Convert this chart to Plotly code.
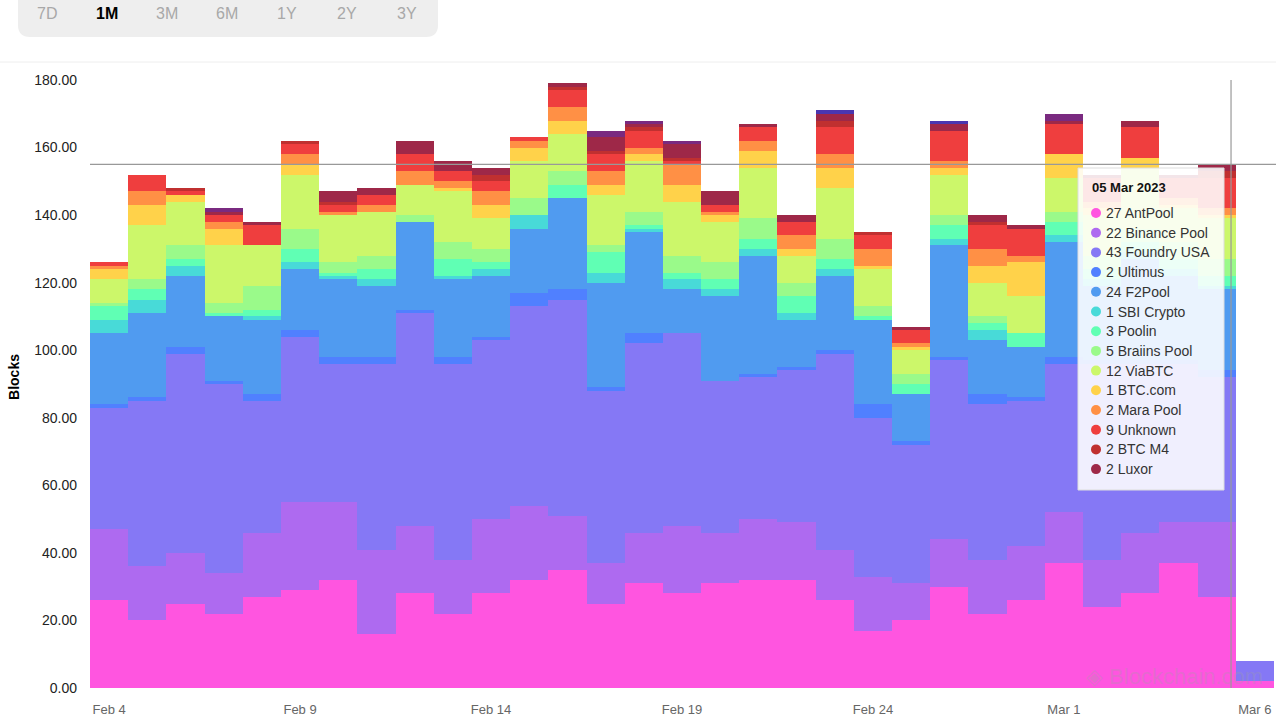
import pandas as pd
import plotly.graph_objects as go

# daily blocks mined per pool, 04 Feb 2023 -> 06 Mar 2023
dates = pd.date_range("2023-02-04", "2023-03-06", freq="D")

pools = ["AntPool", "Binance Pool", "Foundry USA", "Ultimus", "F2Pool", "SBI Crypto",
         "Poolin", "Braiins Pool", "ViaBTC", "BTC.com", "Mara Pool", "Unknown",
         "BTC M4", "Luxor", "Titan", "KuCoinPool"]

antpool = [26, 20, 25, 22, 27, 29, 32, 16, 28, 22, 28, 32, 35, 25, 31, 28, 31, 32, 32, 26, 17, 20, 30, 22, 26, 37, 24, 28, 37, 27, 2]
binance = [21, 16, 15, 12, 19, 26, 23, 25, 20, 16, 22, 22, 16, 12, 15, 20, 15, 18, 17, 15, 16, 11, 14, 16, 16, 15, 14, 18, 12, 22, 0]
foundry = [36, 49, 59, 56, 39, 49, 41, 55, 63, 58, 53, 59, 64, 51, 56, 57, 45, 42, 45, 58, 47, 41, 53, 46, 43, 44, 58, 50, 47, 43, 6]
ultimus = [1, 1, 2, 1, 2, 2, 2, 2, 1, 2, 1, 4, 3, 1, 3, 0, 0, 1, 1, 1, 4, 1, 1, 3, 1, 2, 1, 1, 1, 2, 0]
f2pool = [21, 25, 21, 19, 22, 18, 23, 21, 26, 23, 18, 19, 27, 31, 30, 13, 25, 35, 14, 22, 25, 14, 33, 16, 15, 34, 22, 30, 25, 24, 0]
sbi = [4, 4, 3, 0, 1, 2, 1, 2, 0, 1, 2, 4, 0, 3, 1, 3, 2, 2, 2, 2, 0, 0, 2, 3, 0, 2, 2, 2, 2, 1, 0]
poolin = [4, 3, 2, 1, 2, 4, 1, 3, 0, 5, 2, 0, 4, 6, 1, 2, 3, 3, 5, 3, 1, 3, 4, 2, 4, 4, 3, 3, 3, 3, 0]
braiins = [1, 3, 4, 3, 7, 6, 3, 4, 2, 5, 4, 5, 4, 2, 4, 5, 5, 6, 4, 6, 3, 3, 3, 2, 0, 3, 4, 4, 5, 5, 0]
viabtc = [7, 16, 13, 17, 12, 16, 14, 13, 9, 15, 9, 11, 11, 15, 15, 16, 12, 15, 8, 15, 11, 7, 12, 10, 11, 10, 12, 18, 10, 12, 0]
btccom = [3, 6, 2, 5, 0, 3, 0, 0, 0, 1, 4, 4, 4, 3, 2, 5, 2, 5, 2, 6, 1, 1, 2, 5, 10, 7, 2, 3, 1, 1, 0]
mara = [1, 4, 0, 2, 0, 3, 1, 2, 4, 2, 4, 2, 4, 4, 2, 6, 1, 3, 4, 4, 5, 1, 2, 5, 2, 0, 2, 0, 2, 2, 0]
unknown = [1, 5, 1, 2, 6, 3, 2, 3, 5, 3, 3, 1, 5, 5, 5, 1, 2, 4, 4, 8, 4, 4, 9, 7, 8, 9, 7, 9, 6, 9, 0]
btcm4 = [0, 0, 1, 0, 0, 1, 1, 0, 0, 0, 2, 0, 1, 1, 1, 1, 0, 0, 0, 2, 1, 0, 0, 1, 0, 0, 0, 0, 0, 2, 0]
luxor = [0, 0, 0, 1, 1, 0, 3, 2, 4, 3, 2, 0, 1, 4, 1, 4, 4, 1, 2, 2, 0, 1, 2, 2, 1, 1, 1, 2, 1, 2, 0]
titan = [0, 0, 0, 1, 0, 0, 0, 0, 0, 0, 0, 0, 0, 2, 1, 1, 0, 0, 0, 0, 0, 0, 0, 0, 0, 2, 0, 0, 0, 0, 0]
kucoin = [0, 0, 0, 0, 0, 0, 0, 0, 0, 0, 0, 0, 0, 0, 0, 0, 0, 0, 0, 1, 0, 0, 1, 0, 0, 0, 0, 0, 0, 0, 0]

series = [antpool, binance, foundry, ultimus, f2pool, sbi, poolin, braiins, viabtc,
          btccom, mara, unknown, btcm4, luxor, titan, kucoin]

colors = ["#ff55e0", "#ae6af0", "#8578f5", "#5080ff", "#509bf0", "#48dad8", "#60ffb4",
          "#9afa8a", "#ccf76a", "#ffd24a", "#ff9045", "#ef3e3e", "#c03030", "#9e2848",
          "#7a2a80", "#4a36b0"]

ranges = ["7D", "1M", "3M", "6M", "1Y", "2Y", "3Y"]
hover_day = pd.Timestamp("2023-03-05")

W, H = 1276, 723
L, R, T, B = 90, 2, 66, 35
PW, PH = W - L - R, H - T - B


def px(x):
    # page pixel -> paper x
    return (x - L) / PW


def py(y):
    # page pixel -> paper y
    return (H - B - y) / PH


fig = go.Figure()

for name, vals, col in zip(pools, series, colors):
    fig.add_trace(go.Bar(
        x=dates, y=vals, name=name,
        marker=dict(color=col, line=dict(width=0)),
        xperiod=86400000, xperiodalignment="middle",
        hoverinfo="skip",
    ))

# x ticks at the middle of every 5th day
tick_days = dates[::5]
tickvals = tick_days + pd.Timedelta(hours=12)
ticktext = [f"{d.strftime('%b')} {d.day}" for d in tick_days]

font = "Liberation Sans, Arial, sans-serif"

shapes = []
annotations = []

# range selector strip at the top
r = 12
x0, x1, y0, y1 = 18, 438, -20, 37
path = (f"M {px(x0)},{py(y0)} L {px(x1)},{py(y0)} L {px(x1)},{py(y1 - r)} "
        f"Q {px(x1)},{py(y1)} {px(x1 - r)},{py(y1)} L {px(x0 + r)},{py(y1)} "
        f"Q {px(x0)},{py(y1)} {px(x0)},{py(y1 - r)} Z")
shapes.append(dict(type="path", xref="paper", yref="paper", path=path,
                   fillcolor="#eeeeee", line=dict(width=0)))
for i, lab in enumerate(ranges):
    sel = lab == "1M"
    annotations.append(dict(
        x=px(47 + i * 60), y=py(13), xref="paper", yref="paper",
        xanchor="center", yanchor="middle",
        text=f"<b>{lab}</b>" if sel else lab, showarrow=False,
        font=dict(family=font, size=16, color="#000" if sel else "#a8a8a8"),
    ))
shapes.append(dict(type="line", xref="paper", yref="paper",
                   x0=px(0), x1=px(W), y0=py(62), y1=py(62),
                   line=dict(color="#eeeeee", width=1)))

# hover crosshair
idx = list(dates).index(hover_day)
day_total = sum(s[idx] for s in series)
shapes.append(dict(type="line", xref="paper", yref="y", x0=0, x1=px(W),
                   y0=day_total, y1=day_total, line=dict(color="#999999", width=1.2)))
cross_x = hover_day + pd.Timedelta(hours=21)
shapes.append(dict(type="line", xref="x", yref="paper", x0=cross_x, x1=cross_x,
                   y0=0, y1=py(80), line=dict(color="#999999", width=1.2)))

# tooltip
shapes.append(dict(type="rect", xref="paper", yref="paper",
                   x0=px(1078), x1=px(1224), y0=py(490), y1=py(168),
                   fillcolor="rgba(255,255,255,0.88)", line=dict(color="#dddddd", width=1)))
annotations.append(dict(
    x=px(1090), y=py(187), xref="paper", yref="paper", xanchor="left", yanchor="middle",
    text=f"<b>{hover_day.strftime('%d %b %Y')}</b>", showarrow=False,
    font=dict(family=font, size=13, color="#111"),
))
row = 0
for name, vals, col in zip(pools, series, colors):
    if vals[idx] == 0:
        continue
    yc = 213 + row * 19.7
    shapes.append(dict(type="circle", xref="paper", yref="paper",
                       x0=px(1091), x1=px(1101), y0=py(yc + 5), y1=py(yc - 5),
                       fillcolor=col, line=dict(width=0)))
    annotations.append(dict(
        x=px(1104), y=py(yc), xref="paper", yref="paper", xanchor="left", yanchor="middle",
        text=f"{vals[idx]} {name}", showarrow=False,
        font=dict(family=font, size=14, color="#333"),
    ))
    row += 1

# watermark
annotations.append(dict(
    x=px(1265), y=py(676), xref="paper", yref="paper", xanchor="right", yanchor="middle",
    text="◈ Blockchain.com", showarrow=False,
    font=dict(family=font, size=22, color="rgba(160,160,160,0.3)"),
))

fig.update_layout(
    width=W, height=H,
    margin=dict(l=L, r=R, t=T, b=B),
    paper_bgcolor="white", plot_bgcolor="white",
    barmode="stack", bargap=0,
    showlegend=False,
    shapes=shapes, annotations=annotations,
    xaxis=dict(
        type="date",
        range=[dates[0], dates[-1] + pd.Timedelta(days=1)],
        tickvals=tickvals, ticktext=ticktext,
        showgrid=False, zeroline=False, showline=False, ticks="",
        tickfont=dict(family=font, size=13, color="#666"),
        ticklabelstandoff=12,
    ),
    yaxis=dict(
        range=[0, PH / 3.378],
        tickvals=list(range(0, 181, 20)), tickformat=".2f",
        showgrid=False, zeroline=False, showline=False, ticks="",
        tickfont=dict(family=font, size=14, color="#222"),
        ticklabelstandoff=12,
        title=dict(text="<b>Blocks</b>", font=dict(family=font, size=14, color="#000"),
                   standoff=11),
    ),
)

# drop the default body margin so the figure fills the window
fig.write_html("out.html", config={"displayModeBar": False},
               post_script="document.body.style.margin='0px';")
